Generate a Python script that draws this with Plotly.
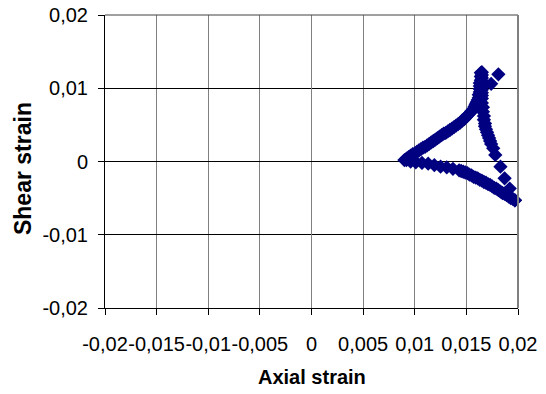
import plotly.graph_objects as go

# Loading path: left tip up to the top of the loop
up_x = [0.0090, 0.0092, 0.0094, 0.0096, 0.0098, 0.0100, 0.0102, 0.0104, 0.0106, 0.0108,
        0.0110, 0.0112, 0.0114, 0.0116, 0.0118, 0.0120, 0.0122, 0.0124, 0.0126, 0.0128,
        0.0130, 0.0132, 0.0134, 0.0136, 0.0138, 0.0140, 0.0142, 0.0144, 0.0146, 0.0148,
        0.0150, 0.0152, 0.0154, 0.0155, 0.0157, 0.0158, 0.0159, 0.0160, 0.0161, 0.0162,
        0.0162, 0.0163, 0.0163, 0.0163, 0.0163, 0.0164, 0.0164, 0.0164]
up_y = [0.0002, 0.0004, 0.0006, 0.0008, 0.0010, 0.0011, 0.0013, 0.0015, 0.0017, 0.0019,
        0.0020, 0.0022, 0.0024, 0.0026, 0.0028, 0.0030, 0.0032, 0.0034, 0.0036, 0.0038,
        0.0039, 0.0041, 0.0043, 0.0045, 0.0047, 0.0049, 0.0051, 0.0053, 0.0056, 0.0058,
        0.0061, 0.0064, 0.0067, 0.0069, 0.0072, 0.0075, 0.0078, 0.0081, 0.0084, 0.0087,
        0.0091, 0.0095, 0.0099, 0.0103, 0.0107, 0.0111, 0.0116, 0.0121]

# Two isolated readings right of the peak
peak_x = [0.0181, 0.0174]
peak_y = [0.0119, 0.0106]

# Unloading path: from the peak down to the lower-right corner
down_x = [0.0165, 0.0165, 0.0165, 0.0165, 0.0165, 0.0165, 0.0165, 0.0165, 0.0165, 0.0165,
          0.0165, 0.0166, 0.0166, 0.0167, 0.0167, 0.0168, 0.0168, 0.0169, 0.0170, 0.0171,
          0.0172, 0.0173, 0.0174, 0.0176, 0.0178, 0.0183, 0.0187, 0.0192, 0.0197]
down_y = [0.0122, 0.0118, 0.0114, 0.0110, 0.0106, 0.0102, 0.0098, 0.0094, 0.0090, 0.0086,
          0.0080, 0.0074, 0.0068, 0.0062, 0.0057, 0.0052, 0.0048, 0.0044, 0.0040, 0.0036,
          0.0032, 0.0028, 0.0024, 0.0018, 0.0009, -0.0007, -0.0023, -0.0037, -0.0053]

# Return path: lower-right corner back to the left tip
back_x = [0.0197, 0.0195, 0.0193, 0.0191, 0.0189, 0.0187, 0.0185, 0.0183, 0.0181, 0.0179,
          0.0177, 0.0175, 0.0173, 0.0171, 0.0169, 0.0167, 0.0165, 0.0163, 0.0161, 0.0159,
          0.0157, 0.0155, 0.0153, 0.0151, 0.0149, 0.0147, 0.0145, 0.0143, 0.0137, 0.0131,
          0.0125, 0.0119, 0.0113, 0.0107, 0.0101, 0.0096, 0.0092]
back_y = [-0.0053, -0.0051, -0.0050, -0.0048, -0.0046, -0.0044, -0.0043, -0.0041, -0.0039, -0.0037,
          -0.0036, -0.0034, -0.0032, -0.0031, -0.0029, -0.0028, -0.0026, -0.0025, -0.0023, -0.0022,
          -0.0021, -0.0019, -0.0018, -0.0016, -0.0015, -0.0014, -0.0013, -0.0012, -0.0010, -0.0008,
          -0.0007, -0.0005, -0.0003, -0.0002, -0.0001, 0.0000, 0.0002]

x_ticks = [-0.02, -0.015, -0.01, -0.005, 0, 0.005, 0.01, 0.015, 0.02]
x_labels = ["-0,02", "-0,015", "-0,01", "-0,005", "0", "0,005", "0,01", "0,015", "0,02"]
y_ticks = [-0.02, -0.01, 0, 0.01, 0.02]
y_labels = ["-0,02", "-0,01", "0", "0,01", "0,02"]

FONT = "Liberation Sans, Arial, sans-serif"
NAVY = "#000080"

xs = up_x + peak_x + down_x + back_x
ys = up_y + peak_y + down_y + back_y

fig = go.Figure(go.Scatter(
    x=xs, y=ys, mode="markers",
    marker=dict(symbol="diamond", size=11, color=NAVY, line=dict(width=0)),
    hoverinfo="x+y",
    cliponaxis=False,
))

fig.update_layout(
    width=546, height=394,
    margin=dict(l=105, r=28, t=15, b=86, autoexpand=False),
    paper_bgcolor="white", plot_bgcolor="white",
    showlegend=False,
    font=dict(family=FONT, color="black"),
    xaxis=dict(
        range=[-0.02, 0.02], tickvals=x_ticks, ticktext=x_labels,
        tickangle=0, automargin=False,
        ticks="outside", ticklen=6, tickcolor="black", tickwidth=1,
        showline=True, linecolor="black", linewidth=1,
        showgrid=True, gridcolor="#808080", gridwidth=1,
        zeroline=True, zerolinecolor="#808080", zerolinewidth=1,
        tickfont=dict(family=FONT, size=20, color="black"),
        ticklabelstandoff=12,
        fixedrange=True,
    ),
    yaxis=dict(
        range=[-0.02, 0.02], tickvals=y_ticks, ticktext=y_labels,
        automargin=False,
        ticks="outside", ticklen=6, tickcolor="black", tickwidth=1,
        showline=True, linecolor="black", linewidth=1,
        showgrid=True, gridcolor="black", gridwidth=1,
        zeroline=True, zerolinecolor="black", zerolinewidth=1,
        tickfont=dict(family=FONT, size=20, color="black"),
        ticklabelstandoff=6,
        fixedrange=True,
    ),
    shapes=[
        dict(type="line", xref="paper", yref="paper", x0=0, x1=1, y0=1, y1=1,
             line=dict(color="#404040", width=1)),
        dict(type="line", xref="paper", yref="paper", x0=1, x1=1, y0=0, y1=1,
             line=dict(color="#808080", width=2)),
    ],
    annotations=[
        dict(text="<b>Axial strain</b>", xref="paper", yref="paper",
             x=0.5, y=-0.2355, xanchor="center", yanchor="middle",
             showarrow=False, font=dict(family=FONT, size=20, color="black")),
        dict(text="<b>Shear strain</b>", xref="paper", yref="paper",
             x=-0.1985, y=0.4744, xanchor="center", yanchor="middle", textangle=-90,
             showarrow=False, font=dict(family=FONT, size=23, color="black")),
    ],
)

fig.write_html("out.html")
